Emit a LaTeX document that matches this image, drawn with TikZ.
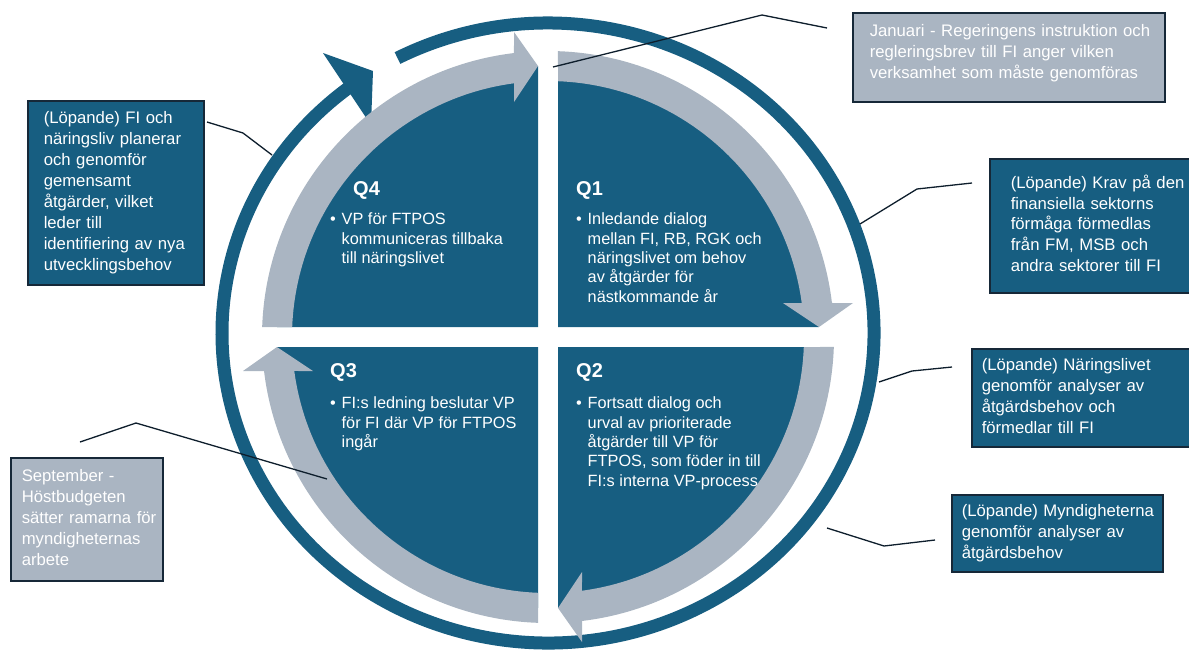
\documentclass[tikz,border=0pt]{standalone}
\usepackage{fontspec}
\setmainfont{Liberation Sans}
\definecolor{dblue}{RGB}{23,94,129}
\definecolor{lgrey}{RGB}{170,181,194}
\definecolor{bord}{RGB}{22,40,56}
\definecolor{conn}{RGB}{14,30,44}
\newcommand{\quadfont}{\fontsize{16.3}{19.4}\selectfont}
\newcommand{\calloutfont}{\fontsize{16.7}{20.9}\selectfont}
\newcommand{\qlabfont}{\fontsize{20}{24}\selectfont\bfseries}
\begin{document}
\begin{tikzpicture}[x=1pt,y=1pt,
  ring/.style={draw=dblue, line width=13pt},
  quad/.style={fill=dblue},
  garrow/.style={fill=lgrey},
  qlabel/.style={anchor=base west, inner sep=0pt, text=white, font=\qlabfont},
  qtext/.style={anchor=base west, inner sep=0pt, text=white, font=\quadfont},
  callbox/.style={draw=bord, line width=1.5pt, anchor=north west, inner ysep=0pt, align=left, text=white, font=\calloutfont},
  bluebox/.style={callbox, fill=dblue},
  greybox/.style={callbox, fill=lgrey},
  conline/.style={draw=conn, line width=1.3pt},
]
\useasboundingbox (0,0) rectangle (1189,-657);

% outer ring with arrowhead
\draw[ring] (548,-333) ++(117.5:326 and 310) arc[start angle=117.5, end angle=-233, x radius=326, y radius=310];
\fill[dblue] (323,-53) -- (373,-71) -- (371,-125) -- cycle;

% dark quadrants
\foreach \r in {0,-90,-180,-270} {
  \begin{scope}[shift={(548,-337)}, rotate=\r]
    \fill[quad] (10,10) -- (87.885:271) arc[start angle=87.885, end angle=2.115, radius=271] -- cycle;
  \end{scope}
}
% grey arrows
\foreach \r in {0,-90,-180,-270} {
  \begin{scope}[shift={(548,-337)}, rotate=\r]
    \fill[garrow] (88:286) arc[start angle=88, end angle=6.83, radius=286] -- (305,34) -- (271,10) -- (235,34) -- (7.63:256) arc[start angle=7.63, end angle=87.76, radius=256] -- cycle;
  \end{scope}
}

% quadrant labels
\node[qlabel] (q1l) at (576,-195) {Q1};
\node[qlabel] (q4l) at (353,-195) {Q4};
\node[qlabel] (q3l) at (330,-377) {Q3};
\node[qlabel] (q2l) at (576,-377) {Q2};

\node[qtext] (q1t) at (576,-224.6) {\begin{tabular}[t]{@{}l@{\hspace{5.8pt}}l@{}}•&Inledande dialog\\&mellan FI, RB, RGK och\\&näringslivet om behov\\&av åtgärder för\\&nästkommande år\end{tabular}};
\node[qtext] (q4t) at (330,-224.6) {\begin{tabular}[t]{@{}l@{\hspace{5.8pt}}l@{}}•&VP för FTPOS\\&kommuniceras tillbaka\\&till näringslivet\end{tabular}};
\node[qtext] (q3t) at (330,-408.6) {\begin{tabular}[t]{@{}l@{\hspace{5.8pt}}l@{}}•&FI:s ledning beslutar VP\\&för FI där VP för FTPOS\\&ingår\end{tabular}};
\node[qtext] (q2t) at (576,-408.6) {\begin{tabular}[t]{@{}l@{\hspace{5.8pt}}l@{}}•&Fortsatt dialog och\\&urval av prioriterade\\&åtgärder till VP för\\&FTPOS, som föder in till\\&FI:s interna VP-process\end{tabular}};

% callout connectors
\coordinate (j1) at (827,-28);  \coordinate (j2) at (762,-15);  \coordinate (j3) at (553,-67);
\coordinate (k1) at (972,-183); \coordinate (k2) at (917,-189); \coordinate (k3) at (860,-224);
\coordinate (l1) at (207,-122); \coordinate (l2) at (243,-133); \coordinate (l3) at (272,-155);
\coordinate (n1) at (952,-367); \coordinate (n2) at (912,-371); \coordinate (n3) at (879,-382);
\coordinate (m1) at (935,-540); \coordinate (m2) at (884,-546); \coordinate (m3) at (827,-528);
\coordinate (s1) at (80,-442);  \coordinate (s2) at (136,-423); \coordinate (s3) at (327,-479);
\draw[conline] (j1) -- (j2) -- (j3);
\draw[conline] (k1) -- (k2) -- (k3);
\draw[conline] (l1) -- (l2) -- (l3);
\draw[conline] (n1) -- (n2) -- (n3);
\draw[conline] (m1) -- (m2) -- (m3);
\draw[conline] (s1) -- (s2) -- (s3);

% callout boxes
\node[greybox, minimum width=312pt, minimum height=89pt, text width=278pt, inner xsep=17pt] (jan) at (852,-12)
  {\begin{tabular}{@{}l@{}}Januari - Regeringens instruktion och\\regleringsbrev till FI anger vilken\\verksamhet som måste genomföras\\[8pt]\end{tabular}};
\node[bluebox, minimum width=240pt, minimum height=134pt, text width=198pt, inner xsep=21pt] (krav) at (989,-158)
  {\begin{tabular}{@{}l@{}}(Löpande) Krav på den\\finansiella sektorns\\förmåga förmedlas\\från FM, MSB och\\andra sektorer till FI\end{tabular}};
\node[bluebox, minimum width=176pt, minimum height=184pt, text width=144pt, inner xsep=16pt] (lop) at (27,-100)
  {\begin{tabular}{@{}l@{}}(Löpande) FI och\\näringsliv planerar\\och genomför\\gemensamt\\åtgärder, vilket\\leder till\\identifiering av nya\\utvecklingsbehov\end{tabular}};
\node[bluebox, minimum width=240pt, minimum height=98pt, text width=220pt, inner xsep=10pt] (nar) at (971,-348)
  {\begin{tabular}{@{}l@{}}(Löpande) Näringslivet\\genomför analyser av\\åtgärdsbehov och\\förmedlar till FI\end{tabular}};
\node[bluebox, minimum width=211pt, minimum height=77pt, text width=191pt, inner xsep=10pt] (myn) at (951,-494)
  {\begin{tabular}{@{}l@{}}(Löpande) Myndigheterna\\genomför analyser av\\åtgärdsbehov\end{tabular}};
\node[greybox, minimum width=152pt, minimum height=123pt, text width=130pt, inner xsep=11pt] (sep) at (10,-457)
  {\begin{tabular}{@{}l@{}}September -\\Höstbudgeten\\sätter ramarna för\\myndigheternas\\arbete\end{tabular}};
\end{tikzpicture}
\end{document}
